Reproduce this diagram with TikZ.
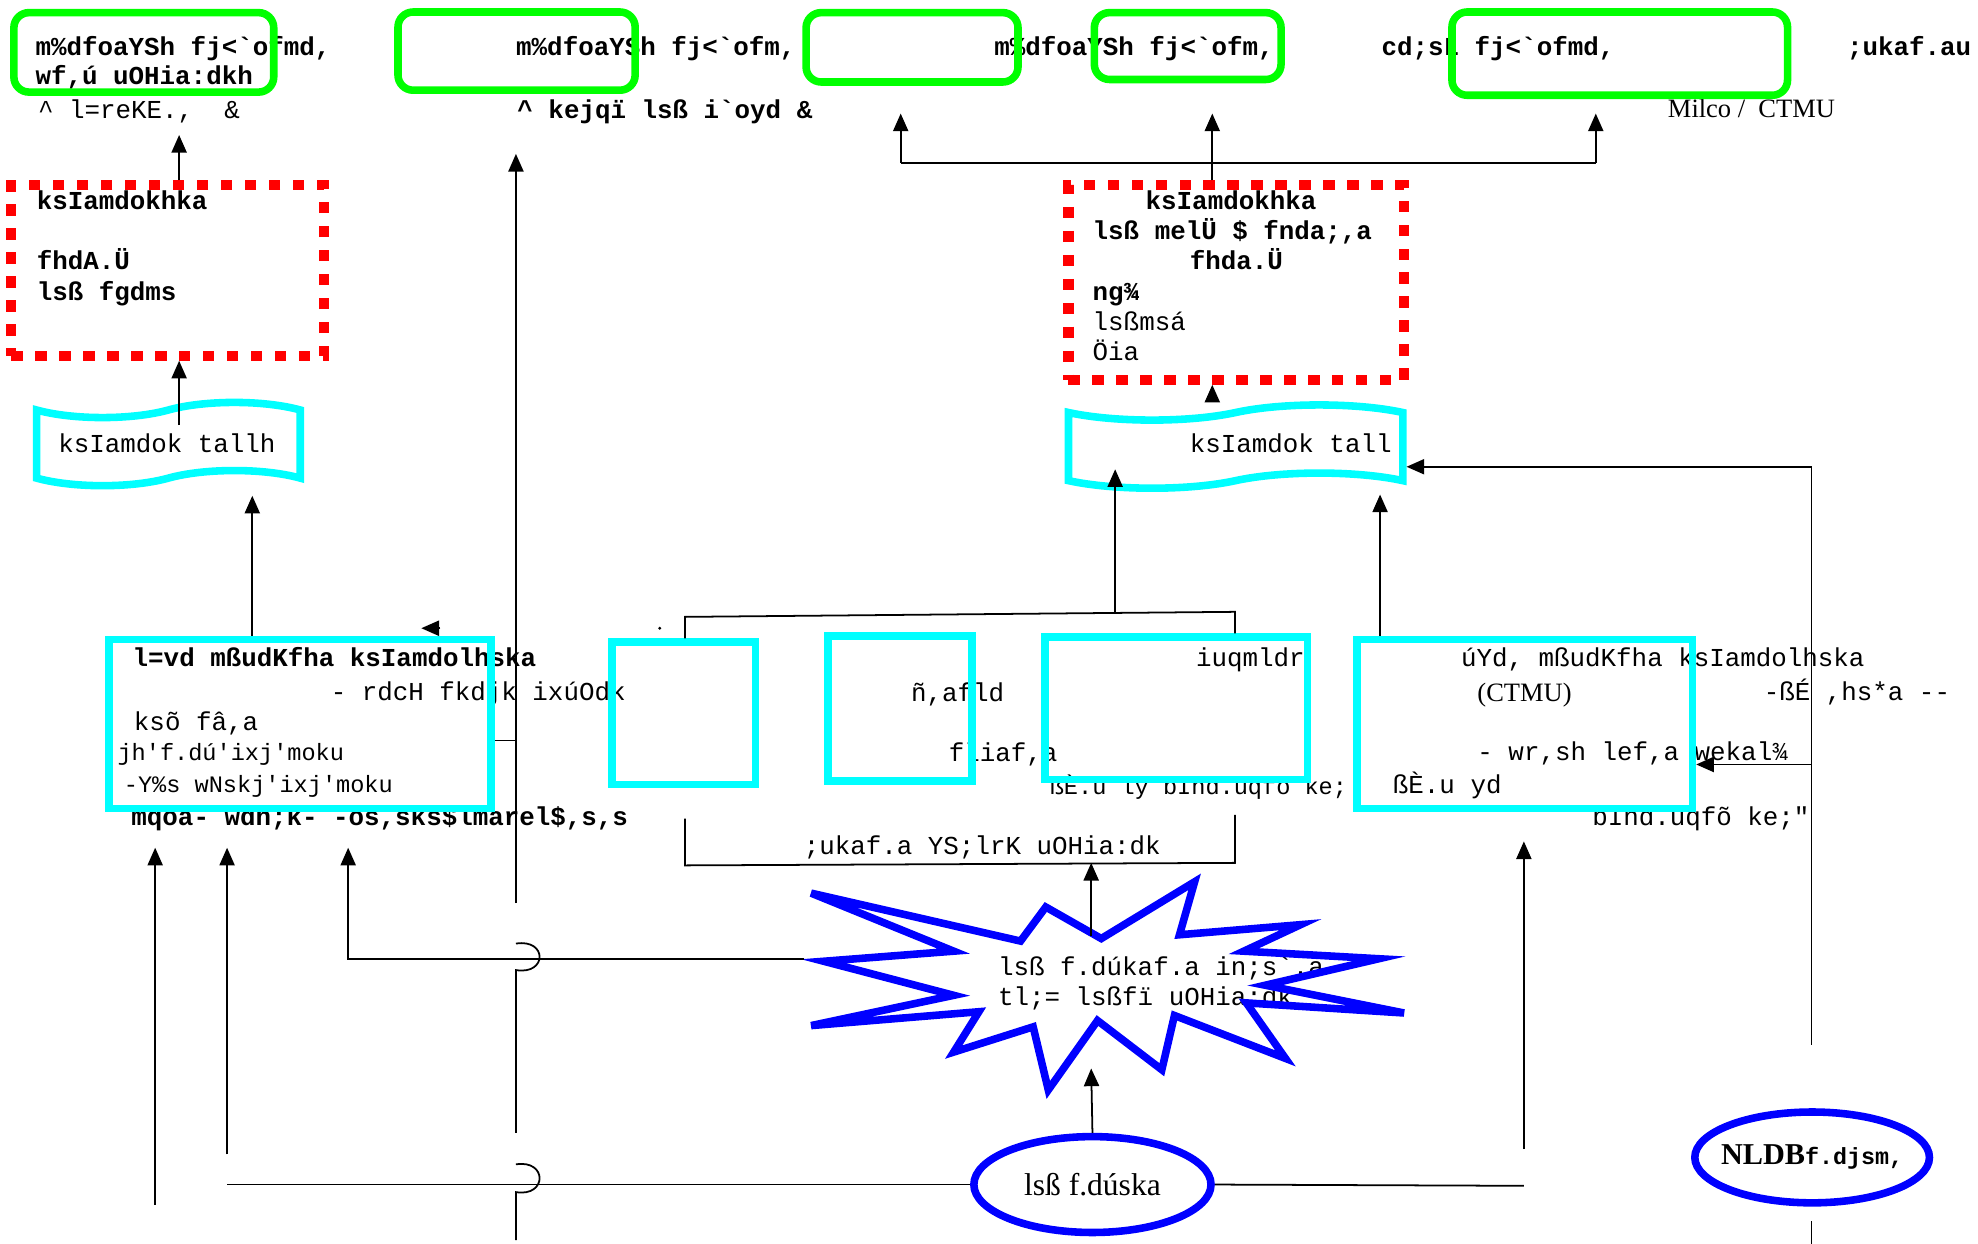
\documentclass[tikz,border=0pt]{standalone}
\usepackage{fontspec}
\setmainfont{Liberation Serif}
\setmonofont{Liberation Mono}
\usetikzlibrary{arrows.meta,shapes.geometric,shapes.symbols}
\definecolor{aqua}{RGB}{0,255,255}
\definecolor{lime}{RGB}{0,255,0}
\definecolor{pred}{RGB}{255,0,0}
\definecolor{pblue}{RGB}{0,0,255}

\begin{document}
\begin{tikzpicture}[x=1pt,y=-1pt,
  gbox/.style={draw=lime,line width=6pt,rounded corners=12pt,inner sep=0pt},
  cbox/.style={draw=aqua,line width=6pt,inner sep=0pt},
  rbox/.style={draw=pred,line width=8pt,dash pattern=on 9pt off 10pt,inner sep=0pt},
  wave/.style={draw=aqua,line width=6pt,tape,tape bend top=in and out,tape bend bottom=in and out,tape bend height=12pt,inner sep=0pt},
  oval/.style={draw=pblue,line width=6pt,ellipse,inner sep=0pt},
  txt/.style={anchor=base west,inner sep=0pt,font=\ttfamily\fontsize{20.5}{24}\selectfont},
  btxt/.style={txt,font=\ttfamily\bfseries\fontsize{20.5}{24}\selectfont},
  stxt/.style={txt,font=\ttfamily\fontsize{18.7}{22}\selectfont},
  rtxt/.style={anchor=base west,inner sep=0pt,font=\fontsize{21}{24}\selectfont},
  conn/.style={line width=1.4pt},
  arr/.style={conn,-{Triangle[length=14pt,width=12pt]}}]
\useasboundingbox (0,0) rectangle (1568,986);

% texts of the top row
\node[btxt] (t1) at (28,44) {m\%dfoaYSh fj<`ofmd,};
\node[btxt] (t2) at (28,67) {wf,ú uOHia:dkh};
\node[txt] (t3) at (30,94) {\textasciicircum{} l=reKE.,\ \ \&};
\node[btxt] (t4) at (409,44) {m\%dfoaYSh fj<`ofm,};
\node[btxt] (t5) at (410,94) {\textasciicircum{} kejqï lsß i`oyd \&};
\node[btxt] (t6) at (788,44) {m\%dfoaYSh fj<`ofm,};
\node[btxt] (t7) at (1095,44) {cd;sL fj<`ofmd,};
\node[btxt] (t8) at (1464,44) {;ukaf.au};
\node[rtxt] (t9) at (1322,93) {Milco /\ \ CTMU};

% texts of the red and wavy boxes
\node[btxt] (r1a) at (29,166) {ksIamdokhka};
\node[btxt] (r1b) at (29,214) {fhdA.Ü};
\node[btxt] (r1c) at (29,238) {lsß fgdms};
\node[txt] (w1t) at (46,359) {ksIamdok tallh};
\node[btxt] (r2a) at (908,166) {ksIamdokhka};
\node[btxt] (r2b) at (866,190) {lsß melÜ \$ fnda;,a};
\node[btxt] (r2c) at (943,214) {fhda.Ü};
\node[btxt] (r2d) at (866,238) {ng¾};
\node[txt] (r2e) at (866,262) {lsßmsá};
\node[txt] (r2f) at (866,286) {Öia};
\node[txt] (w2t) at (943,359) {ksIamdok tall};

% texts of the middle row
\node[btxt] (lba) at (105,528) {l=vd mßudKfha ksIamdolhska};
\node[txt] (lbb) at (262,555) {- rdcH fkdjk ixúOdk};
\node[txt] (lbc) at (106,579) {ksõ fâ,a};
\node[stxt] (lbd) at (93,603) {jh'f.dú'ixj'moku};
\node[stxt] (lbe) at (98,628) {-Y\%s wNskj'ixj'moku};
\node[btxt] (lbf) at (104,654) {mqoa- wdh;k- -os,sks\$lmarel\$,s,s};
\node[txt] (m2a) at (722,556) {ñ,afld};
\node[txt] (m2b) at (752,604) {fliaf,a};
\node[txt] (m3a) at (948,528) {iuqmldr};
\node[stxt] (m3b) at (832,630) {ßÈ.u ly bInd.uqfõ ke;};
\node[txt] (bkt) at (637,677) {;ukaf.a YS;lrK uOHia:dk};
\node[txt] (ra) at (1158,528) {úYd, mßudKfha ksIamdolhska};
\node[rtxt] (rb) at (1171,556) {(CTMU)};
\node[txt] (rc) at (1398,555) {-ßÉ ,hs*a --};
\node[txt] (rd) at (1171,603) {- wr,sh lef,a wekal¾};
\node[txt] (re) at (1104,629) {ßÈ.u yd};
\node[txt] (rf) at (1262,654) {bInd.uqfõ ke;"};
\node[txt] (sa) at (791,773) {lsß f.dúkaf.a in;s`.a};
\node[txt] (sb) at (791,797) {tl;= lsßfï uOHia:dk};

% boxes
\node[gbox,minimum width=206pt,minimum height=63pt] (g1) at (114,41.5) {};
\node[gbox,minimum width=188pt,minimum height=62pt] (g2) at (409.5,40.5) {};
\node[gbox,minimum width=168pt,minimum height=55pt] (g3) at (723,37.5) {};
\node[gbox,minimum width=148pt,minimum height=53pt] (g4) at (941.5,36.5) {};
\node[gbox,minimum width=266pt,minimum height=66pt] (g5) at (1284,42.5) {};
\node[rbox,minimum width=248pt,minimum height=135pt] (r1) at (133,214.5) {};
\node[rbox,minimum width=266pt,minimum height=154pt] (r2) at (980,224) {};
\node[wave,minimum width=209pt,minimum height=66pt] (w1) at (133.5,352) {};
\node[wave,minimum width=265pt,minimum height=66pt] (w2) at (979.5,354) {};
\node[cbox,minimum width=303pt,minimum height=134pt] (lbox) at (237.7,574) {};
\node[cbox,minimum width=114pt,minimum height=113pt] (m1) at (542,565.5) {};
\node[cbox,minimum width=114pt,minimum height=115pt] (m2) at (713.5,561.5) {};
\node[cbox,minimum width=208pt,minimum height=113pt] (m3) at (932.5,561.5) {};
\node[cbox,minimum width=266pt,minimum height=134pt] (ctmu) at (1208.6,574) {};
\node[oval,minimum width=188pt,minimum height=76pt,font=\fontsize{25}{28}\selectfont] (e1) at (866,939) {lsß f.dúska};
\node[oval,minimum width=186pt,minimum height=72pt] (e2) at (1436.5,917.5) {};
\node[inner sep=0pt] (e2t) at (e2.center) {{\fontsize{24}{28}\selectfont\bfseries NLDB}{\ttfamily\bfseries\fontsize{18.5}{22}\selectfont f.djsm,}};

% starburst
\draw[pblue,line width=6pt] (643,708) -- (809,746) -- (829,719) -- (873,744) -- (947,699) -- (935,741)
  -- (1031,733) -- (986,754) -- (1093,760) -- (1003,781) -- (1113,803) -- (988,795) -- (1019,839)
  -- (931,805) -- (921,848) -- (870,809) -- (831,864) -- (819,814) -- (756,834) -- (776,802)
  -- (643,813) -- (756,789) -- (653,762) -- (756,754) -- cycle;

% connectors, top half
\coordinate (c1) at (142,107);
\coordinate (c2) at (142,337);
\coordinate (c3) at (200,393);
\draw[arr] (r1.north -| c1) -- (c1);
\draw[arr] (c2) -- (r1.south -| c2);
\draw[arr] (lbox.north -| c3) -- (c3);
\coordinate (v1) at (409,716);
\coordinate (v2) at (409,122);
\coordinate (c4) at (409,587);
\draw[arr] (v1) -- (v2);
\draw[conn] (lbox.east |- c4) -- (c4);
\coordinate (c5) at (349,498);
\coordinate (c6) at (334,498);
\draw[arr] (c5) -- (c6);
\fill (523,498) circle (1.3pt);
\coordinate (j1) at (543,489);
\coordinate (j2) at (979,485);
\coordinate (j3) at (884,486);
\coordinate (c7) at (884,372);
\coordinate (c8) at (1094,392);
\coordinate (c9) at (961,318);
\draw[conn] (m1.north -| j1) -- (j1) -- (j2) -- (m3.north -| j2);
\draw[arr] (j3) -- (c7);
\draw[arr] (ctmu.north -| c8) -- (c8);
\draw[arr] (c9) -- (r2.south -| c9);
\coordinate (k0) at (961,129);
\coordinate (k1) at (714,90);
\coordinate (k2) at (961,90);
\coordinate (k3) at (1265,90);
\draw[conn] (r2.north -| k0) -- (k0);
\draw[conn] (k1 |- k0) -- (k3 |- k0);
\draw[arr] (k1 |- k0) -- (k1);
\draw[arr] (k0) -- (k2);
\draw[arr] (k3 |- k0) -- (k3);

% right side
\coordinate (s1) at (1436,828);
\coordinate (s2) at (1436,370);
\coordinate (s3) at (1436,606);
\coordinate (s4) at (1436,968);
\coordinate (s5) at (1436,986);
\draw[arr] (s1) -- (s2) -- (w2.east |- s2);
\draw[arr] (s3) -- (ctmu.east |- s3);
\draw[conn] (s4) -- (s5);

% bracket and star
\coordinate (b1) at (543,649);
\coordinate (b2) at (543,686);
\coordinate (b3) at (979,684);
\coordinate (b4) at (979,646);
\draw[conn] (b1) -- (b2) -- (b3) -- (b4);
\coordinate (st1) at (865,742);
\coordinate (st2) at (865,847);
\draw[arr] (st1) -- (st1 |- b3);
\draw[arr] (e1.north) -- (st2);

% bottom lines
\coordinate (h1) at (180,939);
\coordinate (h2) at (1208,940);
\coordinate (h3) at (1208,911);
\coordinate (h4) at (1208,667);
\draw[conn] (e1.west) -- (h1);
\draw[conn] (e1.east) -- (h2);
\draw[arr] (h3) -- (h4);
\coordinate (a1) at (123,955);
\coordinate (a2) at (123,672);
\coordinate (a3) at (180,915);
\coordinate (a4) at (180,672);
\coordinate (a5) at (637,760);
\coordinate (a6) at (276,760);
\coordinate (a7) at (276,672);
\draw[arr] (a1) -- (a2);
\draw[arr] (a3) -- (a4);
\draw[arr] (a5) -- (a6) -- (a7);

% jumps of the long line
\coordinate (p1) at (409,748);
\coordinate (p2) at (409,769);
\coordinate (p3) at (409,898);
\coordinate (p4) at (409,923);
\coordinate (p5) at (409,945);
\coordinate (p6) at (409,983);
\draw[conn] (p1) .. controls (434,744) and (434,773) .. (p2) -- (p3);
\draw[conn] (p4) .. controls (434,919) and (434,949) .. (p5) -- (p6);
\end{tikzpicture}
\end{document}
